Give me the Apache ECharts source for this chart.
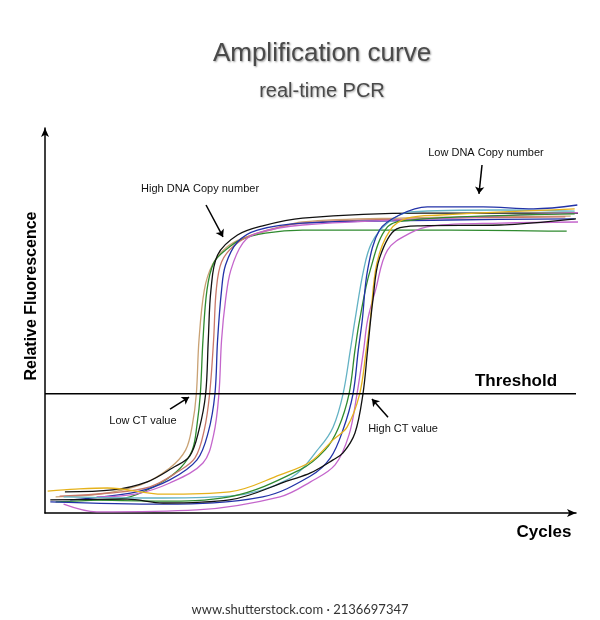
<!DOCTYPE html>
<html>
<head>
<meta charset="utf-8">
<script src="https://cdn.jsdelivr.net/npm/echarts@6/dist/echarts.min.js"></script>
<style>
  html, body { margin: 0; padding: 0; background: #fff; }
  #chart { width: 600px; height: 620px; }
</style>
</head>
<body>
<div id="chart"></div>
<script>
// cycles vs relative fluorescence
const threshold = 31;

// high copy number (early) curves
const earlyTan = [[0.8,4.2],[4.1,4.9],[7.2,7.3],[9.4,11.7],[10.6,16.4],[11.1,22.9],[11.4,30.9],[11.6,44.9],[12.0,57.9],[12.6,64.4],[13.6,68.8],[14.9,71.4],[17.0,73.5],[19.4,75.6],[26.7,76.6],[39.6,77.1]];
const earlyGreen = [[0.8,2.9],[4.1,3.4],[6.4,4.2],[8.7,7.8],[10.2,11.7],[11.1,16.4],[11.45,22.9],[11.7,30.9],[11.9,44.9],[12.2,57.9],[12.7,64.9],[13.6,68.3],[14.7,70.9],[16.6,72.7],[19.4,73.5],[30.5,73.5],[39.3,73.2]];
const earlyBlack = [[1.5,5.5],[5.1,6.0],[7.7,8.1],[9.6,11.7],[10.9,14.8],[11.6,21.6],[12.1,30.9],[12.3,44.9],[12.5,57.9],[13.0,67.0],[14.5,72.2],[16.4,74.6],[19.4,76.6],[28.3,77.9],[40.9,77.9]];
const earlySalmon = [[1.1,4.4],[4.9,5.2],[7.9,6.8],[10.0,10.7],[11.3,14.3],[12.0,21.6],[12.4,30.9],[12.7,44.9],[12.9,57.9],[13.3,65.2],[14.3,69.6],[15.8,72.5],[19.4,75.3],[28.3,76.4],[39.2,76.9]];
const earlyBlue = [[1.9,3.4],[6.9,5.5],[9.4,8.6],[11.45,13.8],[12.3,21.0],[12.8,30.9],[13.0,44.9],[13.3,57.9],[13.6,64.4],[14.5,70.4],[16.0,73.5],[19.4,75.3],[30.5,76.1],[39.9,76.4]];
const earlyViolet = [[3.9,4.2],[6.8,4.9],[9.4,7.8],[11.9,13.0],[12.7,20.3],[13.1,30.9],[13.3,44.9],[13.6,55.3],[14.0,63.1],[14.9,70.1],[16.0,72.7],[19.4,74.8],[30.5,76.6],[41.2,78.2]];

// low copy number (late) curves
const lateCyan = [[1.4,4.2],[7.9,3.9],[13.9,4.4],[18.5,9.1],[20.7,17.1],[21.7,22.3],[22.45,30.9],[23.0,42.3],[23.35,50.1],[24.0,63.1],[24.6,70.1],[25.8,75.3],[27.5,78.2],[34.3,78.7],[39.9,78.4]];
const lateGreen = [[3.4,3.4],[8.7,3.1],[13.9,4.2],[19.2,11.2],[21.1,16.4],[22.1,22.1],[22.9,30.9],[23.35,42.3],[23.7,50.1],[24.5,63.1],[25.8,74.3],[27.7,76.1],[32.8,77.1],[39.9,77.7]];
const lateBlue = [[0.4,2.9],[8.9,2.3],[16.4,4.2],[20.0,9.6],[21.5,14.3],[22.45,21.6],[23.2,30.9],[23.6,42.3],[23.9,50.1],[24.3,63.1],[25.2,73.5],[26.7,77.4],[28.8,79.5],[33.0,79.5],[36.8,79.0],[40.1,80.0]];
const lateViolet = [[1.4,2.3],[3.9,0.3],[11.45,0.8],[17.7,4.2],[20.0,8.1],[21.85,12.5],[22.9,20.3],[23.5,30.9],[24.0,42.3],[24.3,50.1],[24.9,57.9],[25.8,68.3],[27.5,72.7],[29.2,74.6],[34.3,75.3],[40.7,75.6]];
const lateYellow = [[0.2,5.7],[2.3,6.2],[4.7,6.5],[8.9,4.9],[13.9,5.5],[17.7,9.9],[20.0,13.3],[21.7,19.0],[22.75,22.3],[23.7,30.9],[24.2,42.3],[24.5,50.1],[25.0,64.9],[26.0,73.5],[27.3,76.6],[29.8,77.4],[39.9,79.0]];
const lateBlack = [[0.4,3.4],[6.2,3.6],[8.9,2.6],[13.9,3.4],[18.5,8.6],[20.0,10.4],[21.7,13.8],[22.45,15.6],[23.35,20.8],[23.95,30.9],[24.3,42.3],[24.7,55.3],[25.2,66.2],[26.5,73.8],[28.3,74.6],[34.3,74.8],[40.0,76.4]];

const curves = [
  { data: earlyTan, color: '#c9a274' },
  { data: earlyGreen, color: '#2f8a2f' },
  { data: earlyBlack, color: '#111111' },
  { data: earlySalmon, color: '#c9786a' },
  { data: earlyBlue, color: '#2232a8' },
  { data: earlyViolet, color: '#c466cc' },
  { data: lateCyan, color: '#63b2c4' },
  { data: lateGreen, color: '#2f8a2f' },
  { data: lateBlue, color: '#2232a8' },
  { data: lateViolet, color: '#c466cc' },
  { data: lateYellow, color: '#e5b21c' },
  { data: lateBlack, color: '#111111' }
];

// annotations: label text, label position, arrow start, arrow end
const noteTexts = ['High DNA Copy number', 'Low DNA Copy number', 'Low CT value', 'High CT value'];
const notePos = [[11.68, 84.2], [33.22, 93.5], [7.38, 23.9], [26.97, 21.8]];
const arrowFrom = [[12.13, 80.0], [32.92, 90.4], [9.42, 27.0], [25.84, 24.9]];
const arrowTo = [[13.41, 71.7], [32.69, 82.9], [10.85, 30.1], [24.63, 29.6]];

const font = '"Liberation Sans", Arial, sans-serif';

const chart = echarts.init(document.getElementById('chart'));

const series = curves.map((c) => ({
  type: 'line',
  data: c.data,
  smooth: 0.35,
  symbol: 'none',
  clip: false,
  silent: true,
  lineStyle: { color: c.color, width: 1.3 }
}));

series.push({
  type: 'line',
  name: 'Threshold',
  data: [[0, threshold], [40, threshold]],
  symbol: 'none',
  silent: true,
  lineStyle: { color: '#000', width: 1.5 },
  markLine: {
    silent: true,
    symbol: ['none', 'arrow'],
    symbolSize: 7,
    lineStyle: { color: '#000', width: 1.5, type: 'solid' },
    label: { show: false },
    data: arrowFrom.map((p, i) => [{ coord: p }, { coord: arrowTo[i] }])
  },
  markPoint: {
    silent: true,
    symbol: 'circle',
    symbolSize: 0,
    label: {
      show: true,
      position: 'inside',
      color: '#111',
      fontSize: 11,
      fontFamily: font
    },
    data: noteTexts.map((t, i) => ({
      coord: notePos[i],
      value: t,
      label: { formatter: t }
    })).concat([{
      coord: [35.48, 34.3],
      value: 'Threshold',
      label: { formatter: 'Threshold', fontSize: 17, fontWeight: 'bold', color: '#000' }
    }])
  }
});

chart.setOption({
  animation: false,
  backgroundColor: '#fff',
  title: {
    text: 'Amplification curve',
    subtext: 'real-time PCR',
    left: 317,
    top: 36,
    textAlign: 'center',
    itemGap: 14,
    textStyle: {
      fontFamily: font, fontSize: 26, fontWeight: 'normal', color: '#4a4a4a',
      textShadowColor: 'rgba(0,0,0,0.4)', textShadowBlur: 2, textShadowOffsetX: 1, textShadowOffsetY: 1
    },
    subtextStyle: {
      fontFamily: font, fontSize: 20, color: '#4a4a4a',
      textShadowColor: 'rgba(0,0,0,0.35)', textShadowBlur: 2, textShadowOffsetX: 1, textShadowOffsetY: 1
    }
  },
  grid: { left: 45, right: 24, top: 128, bottom: 107 },
  xAxis: {
    type: 'value',
    min: 0,
    max: 40,
    axisLine: {
      show: true,
      symbol: ['none', 'arrow'],
      symbolSize: [6, 9],
      lineStyle: { color: '#000', width: 1.5 }
    },
    axisTick: { show: false },
    axisLabel: { show: false },
    splitLine: { show: false }
  },
  yAxis: {
    type: 'value',
    min: 0,
    max: 100,
    axisLine: {
      show: true,
      symbol: ['none', 'arrow'],
      symbolSize: [6, 9],
      lineStyle: { color: '#000', width: 1.5 }
    },
    axisTick: { show: false },
    axisLabel: { show: false },
    splitLine: { show: false }
  },
  graphic: [
    {
      type: 'text',
      x: 32,
      y: 296,
      rotation: Math.PI / 2,
      style: {
        text: 'Relative Fluorescence',
        fontFamily: font, fontSize: 16, fontWeight: 'bold', fill: '#000',
        textAlign: 'center', textVerticalAlign: 'middle'
      }
    },
    {
      type: 'text',
      x: 544,
      y: 532,
      style: {
        text: 'Cycles',
        fontFamily: font, fontSize: 17, fontWeight: 'bold', fill: '#000',
        textAlign: 'center', textVerticalAlign: 'middle'
      }
    },
    {
      type: 'text',
      x: 300,
      y: 610,
      style: {
        text: 'www.shutterstock.com · 2136697347',
        fontFamily: 'Lato, "Open Sans", sans-serif', fontSize: 13, fill: '#333',
        textAlign: 'center', textVerticalAlign: 'middle'
      }
    }
  ],
  series: series
});
</script>
</body>
</html>
